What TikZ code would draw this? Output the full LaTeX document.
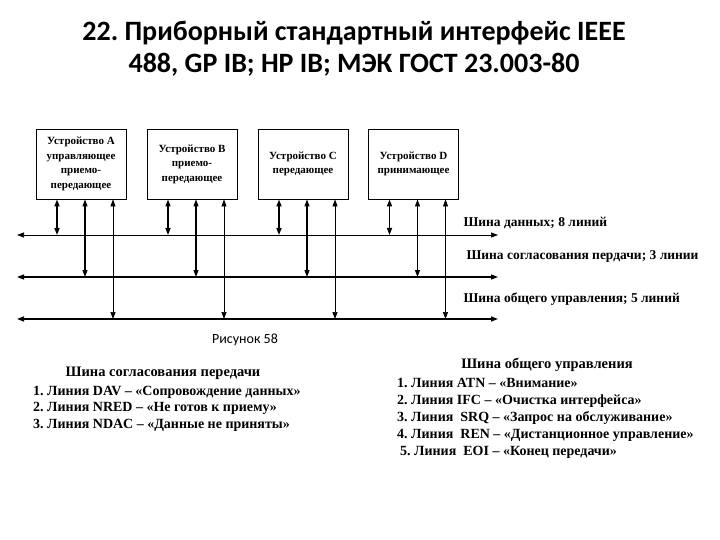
\documentclass[tikz,border=0pt]{standalone}
\usepackage{fontspec}
\setmainfont{Liberation Serif}
\newfontfamily\titlefont{Carlito}
\usetikzlibrary{arrows.meta}
\frenchspacing

\begin{document}
\begin{tikzpicture}[x=1pt,y=-1pt,
    device/.style={draw, line width=0.9pt, minimum width=90pt, minimum height=70pt,
      inner sep=0pt, align=center, font=\bfseries\fontsize{11}{14.5}\selectfont},
    twoway/.style={<->, >={Triangle[length=7pt,width=5pt]}},
    buslabel/.style={anchor=base west, font=\bfseries\fontsize{13.5}{15}\selectfont},
    listhead/.style={font=\bfseries\fontsize{14.5}{16}\selectfont},
    listbody/.style={anchor=north west, align=left, inner sep=0pt}]
\useasboundingbox (0,0) rectangle (720,540);

% title
\node[font=\titlefont\bfseries\fontsize{28}{32}\selectfont, align=center] (title) at (354,49)
  {22. Приборный стандартный интерфейс IEEE\\488, GP IB; HP IB; МЭК ГОСТ 23.003-80};

% devices
\node[device] (A) at (81,164) {Устройство A\\управляющее\\приемо-\\передающее};
\node[device] (B) at (192,164) {Устройство B\\приемо-\\передающее};
\node[device] (C) at (303,164) {Устройство C\\передающее};
\node[device] (D) at (413.5,164) {Устройство D\\принимающее};

% buses
\coordinate (data) at (17,235);
\coordinate (hand) at (17,277);
\coordinate (ctrl) at (17,319);
\coordinate (dataE) at (498,235);
\coordinate (handE) at (498,277);
\coordinate (ctrlE) at (498,319);
\draw[twoway, line width=0.7pt] (data) -- (dataE);
\draw[twoway, line width=1.1pt] (hand) -- (handE);
\draw[twoway, line width=1.5pt] (ctrl) -- (ctrlE);

\foreach \d in {A,B,C,D}{
  \draw[twoway, line width=1.5pt] ([xshift=-24pt]\d.south) -- ([xshift=-24pt]\d.south |- data);
  \draw[twoway, line width=1.1pt] ([xshift=4pt]\d.south) -- ([xshift=4pt]\d.south |- hand);
  \draw[twoway, line width=0.7pt] ([xshift=32pt]\d.south) -- ([xshift=32pt]\d.south |- ctrl);
}

\node[buslabel] (ldata) at (460,226) {Шина данных; 8 линий};
\node[buslabel] (lhand) at (463,259) {Шина согласования пердачи; 3 линии};
\node[buslabel] (lctrl) at (460,302) {Шина общего управления; 5 линий};

\node[font=\titlefont\fontsize{14}{16}\selectfont] (fig) at (245,340) {Рисунок 58};

% line lists
\node[listhead] (hhead) at (163,373) {Шина согласования передачи};
\node[listbody, font=\bfseries\fontsize{14}{16.5}\selectfont] (hlist) at (33,386)
  {1. Линия DAV -- «Сопровождение данных»\\
   2. Линия NRED -- «Не готов к приему»\\
   3. Линия NDAC -- «Данные не приняты»};
\node[listhead] (chead) at (547,365) {Шина общего управления};
\node[listbody, font=\bfseries\fontsize{14}{17}\selectfont] (clist) at (397,378.5)
  {1. Линия ATN -- «Внимание»\\
   2. Линия IFC -- «Очистка интерфейса»\\
   3. Линия\ \ SRQ -- «Запрос на обслуживание»\\
   4. Линия\ \ REN -- «Дистанционное управление»\\
   \hspace{3pt}5. Линия\ \ EOI -- «Конец передачи»};
\end{tikzpicture}
\end{document}
